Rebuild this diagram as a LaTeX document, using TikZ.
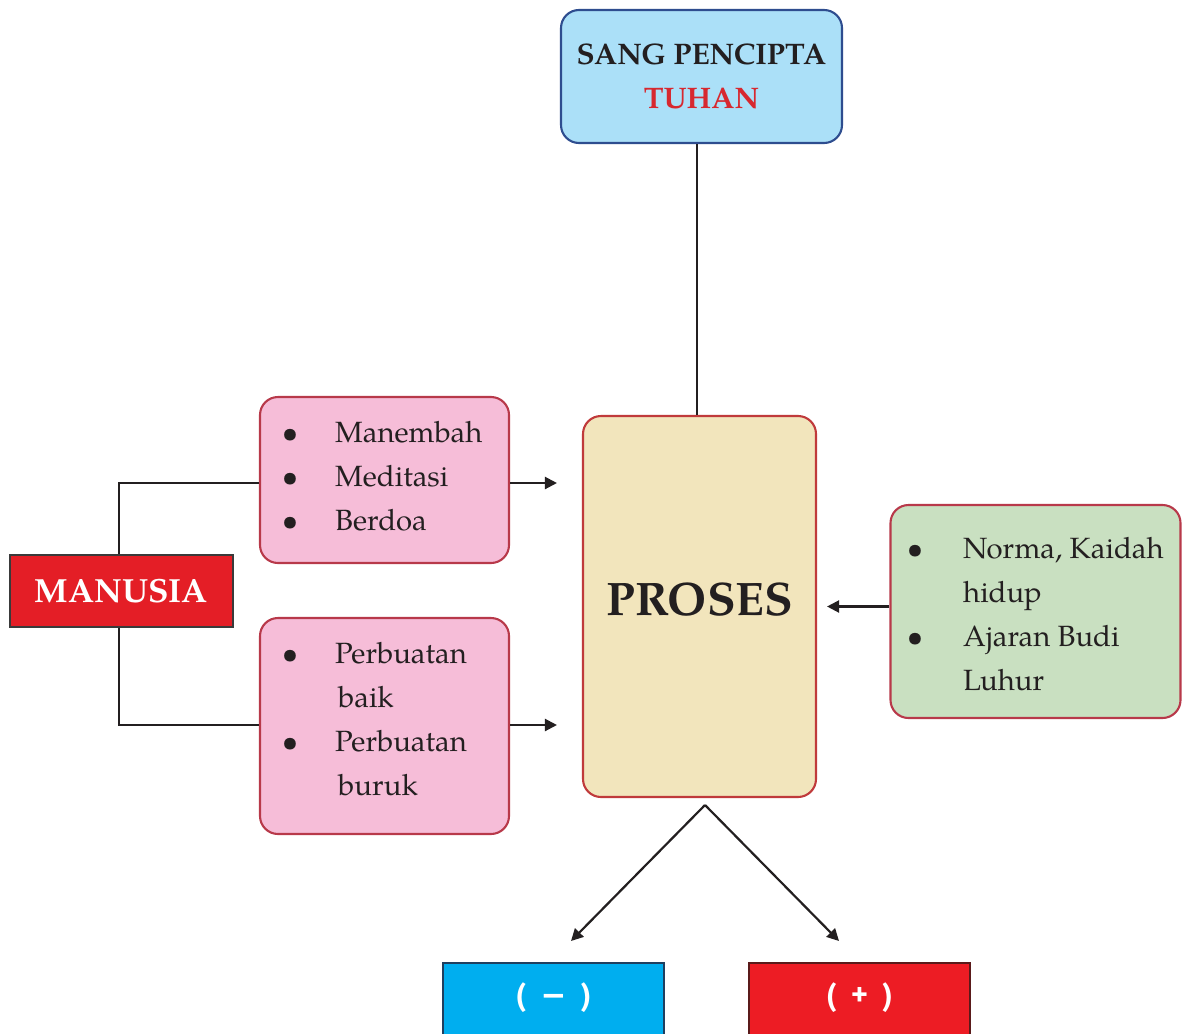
\documentclass[tikz,border=0pt]{standalone}
\usepackage{fontspec}
\setmainfont{TeX Gyre Pagella}
\newfontfamily\labelsans{PT Sans}
\usetikzlibrary{arrows.meta}

\definecolor{ink}{HTML}{231F20}
\definecolor{skyfill}{HTML}{ABE0F8}
\definecolor{skyline}{HTML}{2E4D8F}
\definecolor{tuhanred}{HTML}{D7282F}
\definecolor{pinkfill}{HTML}{F6BDD8}
\definecolor{boxline}{HTML}{B8394A}
\definecolor{prosesfill}{HTML}{F2E5BC}
\definecolor{prosesline}{HTML}{C03A3B}
\definecolor{greenfill}{HTML}{C9E0C1}
\definecolor{manred}{HTML}{E41E26}
\definecolor{darkedge}{HTML}{3A3A3A}
\definecolor{negblue}{HTML}{00AEEF}
\definecolor{negedge}{HTML}{1F3F5F}
\definecolor{posred}{HTML}{ED1C24}
\definecolor{posedge}{HTML}{5A1A1A}
\definecolor{linkgray}{HTML}{231F20}

\begin{document}
\begin{tikzpicture}[x=1pt,y=-1pt,
  box/.style={draw, line width=2.1pt, rounded corners=18pt, inner sep=0pt},
  flat/.style={draw, line width=1.6pt, inner sep=0pt},
  link/.style={line width=2.2pt, draw=linkgray},
  arr/.style={link, -{Triangle[length=12pt,width=12pt]}},
  itemtext/.style={anchor=base west, inner sep=0pt, font=\fontsize{29.3}{34}\selectfont, text=ink},
  dot/.style={anchor=base, inner sep=0pt, font=\fontsize{29.3}{34}\selectfont, text=ink},
  signlabel/.style={text=white, font=\labelsans\bfseries\fontsize{32}{36}\selectfont},
]
\useasboundingbox[fill=white] (0,0) rectangle (1182,1033);

% --- main boxes ---
\node[box, fill=skyfill, draw=skyline, minimum width=281pt, minimum height=133pt,
      align=center, font=\bfseries\fontsize{29.7}{44}\selectfont, text=ink]
  (tuhan) at (701.5,76.5) {SANG PENCIPTA\\\textcolor{tuhanred}{TUHAN}};

\node[box, fill=prosesfill, draw=prosesline, minimum width=233pt, minimum height=381pt]
  (proses) at (699.5,606.5) {};
\node[inner sep=0pt, font=\bfseries\fontsize{47}{54}\selectfont, text=ink]
  (prosestext) at (700,600) {PROSES};

\node[flat, fill=manred, draw=darkedge, minimum width=223pt, minimum height=72pt,
      font=\bfseries\fontsize{33.5}{38}\selectfont, text=white]
  (manusia) at (121.5,591) {MANUSIA};

\node[box, fill=pinkfill, draw=boxline, minimum width=249pt, minimum height=166pt]
  (ibadah) at (384.5,480) {};
\node[box, fill=pinkfill, draw=boxline, minimum width=249pt, minimum height=216pt]
  (perbuatan) at (384.5,726) {};
\node[box, fill=greenfill, draw=boxline, minimum width=290pt, minimum height=213pt]
  (norma) at (1035.5,611.5) {};

\node[flat, fill=negblue, draw=negedge, minimum width=221pt, minimum height=74pt]
  (negatif) at (553.5,1000) {};
\node[signlabel] (negtext) at (553.5,998) {(\hspace{0.45em}—\hspace{0.45em})};
\node[flat, fill=posred, draw=posedge, minimum width=221pt, minimum height=74pt]
  (positif) at (859.5,1000) {};
\node[signlabel] (postext) at (859.5,998) {(\hspace{0.45em}+\hspace{0.45em})};

% --- list entries ---
\node[dot] (ba1) at (290,442) {•};
\node[itemtext] (ta1) at (335,442) {Manembah};
\node[dot] (ba2) at (290,486) {•};
\node[itemtext] (ta2) at (335,486) {Meditasi};
\node[dot] (ba3) at (290,530) {•};
\node[itemtext] (ta3) at (335,530) {Berdoa};

\node[dot] (bb1) at (290,663) {•};
\node[itemtext] (tb1) at (335,663) {Perbuatan};
\node[itemtext] (tb2) at (338,707) {baik};
\node[dot] (bb3) at (290,751) {•};
\node[itemtext] (tb3) at (335,751) {Perbuatan};
\node[itemtext] (tb4) at (338,795) {buruk};

\node[dot] (bc1) at (915,558) {•};
\node[itemtext] (tc1) at (963,558) {Norma, Kaidah};
\node[itemtext] (tc2) at (963,602) {hidup};
\node[dot] (bc3) at (915,646) {•};
\node[itemtext] (tc3) at (963,646) {Ajaran Budi};
\node[itemtext] (tc4) at (963,690) {Luhur};

% --- connectors ---
\coordinate (stem) at (697,0);
\draw[link] (tuhan.south -| stem) -- (proses.north -| stem);

\coordinate (trunk) at (119,0);
\draw[link] (manusia.north -| trunk) |- ([yshift=-3pt]ibadah.west);
\draw[link] (manusia.south -| trunk) |- ([yshift=1pt]perbuatan.west);

\draw[arr, shorten >=25pt] ([yshift=-3pt]ibadah.east) -- ([yshift=-3pt]ibadah.east -| proses.west);
\draw[arr, shorten >=25pt] ([yshift=1pt]perbuatan.east) -- ([yshift=1pt]perbuatan.east -| proses.west);
\draw[arr, shorten >=10pt] ([yshift=5pt]norma.west) -- ([yshift=5pt]norma.west -| proses.east);

\coordinate (split) at (705,805);
\coordinate (negtip) at (571,941);
\coordinate (postip) at (839,941);
\draw[arr] (split) -- (negtip);
\draw[arr] (split) -- (postip);
\end{tikzpicture}
\end{document}
